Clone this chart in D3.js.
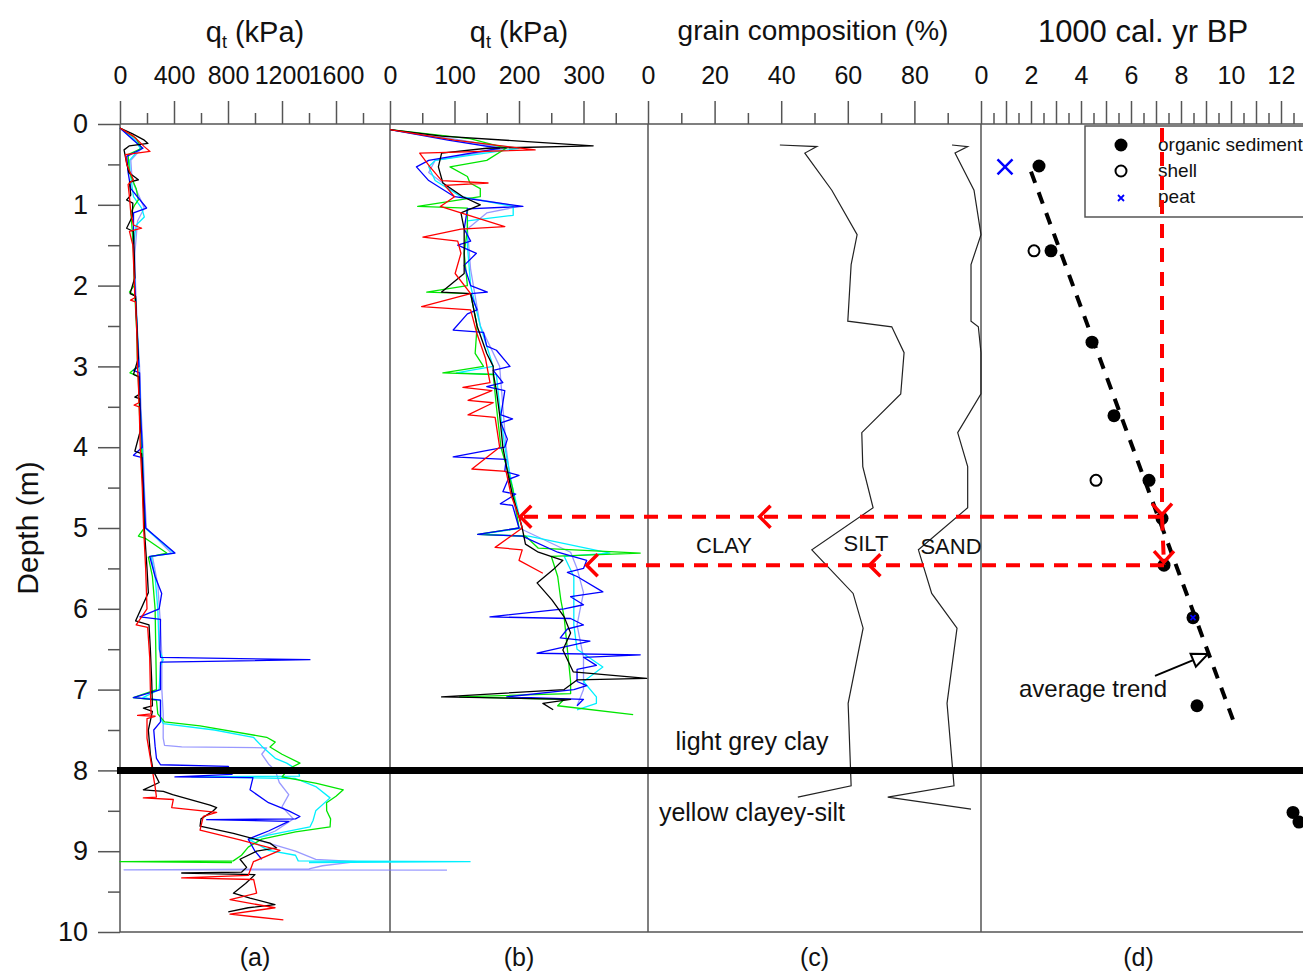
<!DOCTYPE html>
<html><head><meta charset="utf-8">
<script src="https://cdn.jsdelivr.net/npm/d3@7"></script>
<style>body{margin:0;background:#fff}</style>
</head><body>
<svg id="chart" width="1303" height="971"></svg>
<script>
// ---------------- DATA ----------------
// panel (a): cone resistance qt (kPa) vs depth (m); pairs [depth, qt]
const qtA_black = [[0.05,0],[0.12,90],[0.2,180],[0.24,207],[0.27,70],[0.32,30],[0.45,45],[0.6,65],[0.69,136],[0.72,70],[0.88,80],[0.94,49],[0.98,95],[1.15,90],[1.29,49],[1.33,100],[1.6,105],[1.9,110],[2.1,75],[2.13,115],[2.5,125],[2.9,135],[3.1,100],[3.13,140],[3.35,140],[3.38,110],[3.4,145],[3.8,150],[4.05,110],[4.08,160],[4.5,170],[5.0,180],[5.5,200],[5.8,210],[6.15,115],[6.2,215],[6.5,225],[6.9,235],[7.2,240],[7.23,173],[7.27,240],[7.5,210],[7.8,225],[8.0,245],[8.15,290],[8.24,173],[8.26,321],[8.3,390],[8.43,667],[8.46,716],[8.5,691],[8.6,600],[8.69,593],[8.78,840],[8.9,1111],[8.96,1160],[9.0,1012],[9.1,889],[9.2,938],[9.26,900],[9.27,457],[9.29,1000],[9.4,930],[9.52,840],[9.58,963],[9.66,1148],[9.7,950],[9.75,802]];
const qtA_red = [[0.05,0],[0.15,100],[0.28,180],[0.34,222],[0.38,40],[0.5,50],[0.69,99],[0.75,60],[0.9,70],[1.1,80],[1.25,100],[1.29,160],[1.33,70],[1.5,95],[1.9,105],[2.15,110],[2.18,78],[2.2,115],[2.6,125],[3.0,130],[3.3,138],[3.45,140],[3.48,105],[3.5,142],[4.0,150],[4.5,165],[5.0,175],[5.5,190],[6.0,200],[6.2,120],[6.23,205],[6.6,220],[7.0,225],[7.3,230],[7.32,130],[7.33,260],[7.36,200],[7.6,200],[8.0,240],[8.2,260],[8.33,270],[8.34,173],[8.36,395],[8.46,383],[8.52,716],[8.57,617],[8.74,593],[8.86,889],[8.99,1185],[9.13,988],[9.3,950],[9.33,457],[9.35,990],[9.52,1012],[9.6,815],[9.7,1148],[9.78,815],[9.85,1210]];
const qtA_green = [[0.05,0],[0.18,120],[0.3,160],[0.38,60],[0.6,70],[0.8,120],[0.94,136],[1.0,110],[1.1,80],[1.3,90],[1.6,100],[2.0,105],[2.08,70],[2.12,110],[2.6,125],[3.0,130],[3.08,74],[3.12,135],[3.6,145],[4.0,160],[4.5,170],[5.0,180],[5.1,136],[5.13,190],[5.31,346],[5.36,210],[5.6,240],[6.0,260],[6.5,265],[7.0,270],[7.1,99],[7.13,270],[7.3,280],[7.4,330],[7.45,593],[7.59,1086],[7.65,1150],[7.71,1111],[7.8,1200],[7.91,1333],[7.98,1250],[8.08,1200],[8.16,1457],[8.24,1654],[8.32,1600],[8.4,1530],[8.5,1531],[8.6,1560],[8.7,1556],[8.76,1300],[8.85,1050],[8.95,950],[9.05,900],[9.12,839],[9.13,0],[9.14,830]];
const qtA_cyan = [[0.05,0],[0.2,110],[0.3,150],[0.45,70],[0.6,75],[0.9,100],[1.04,160],[1.15,180],[1.25,120],[1.5,100],[2.0,110],[2.6,130],[3.0,140],[3.5,150],[4.0,165],[4.5,175],[5.0,185],[5.31,400],[5.35,230],[5.6,260],[6.0,280],[6.5,290],[6.63,320],[6.7,300],[7.0,290],[7.1,170],[7.13,300],[7.35,300],[7.42,320],[7.5,700],[7.59,988],[7.7,1050],[7.85,1150],[7.91,1235],[8.0,1320],[8.07,1330],[8.08,531],[8.1,1300],[8.2,1450],[8.34,1556],[8.5,1450],[8.62,1430],[8.7,1407],[8.8,1100],[8.86,963],[8.99,1100],[9.05,1300],[9.12,1320],[9.13,2593],[9.14,1400]];
const qtA_blue = [[0.05,0],[0.2,100],[0.3,170],[0.4,50],[0.6,60],[0.8,80],[1.04,197],[1.1,100],[1.5,100],[2.0,110],[2.5,125],[3.0,140],[3.05,100],[3.08,145],[3.5,150],[4.0,165],[4.1,100],[4.13,165],[4.5,175],[5.0,190],[5.31,407],[5.35,220],[5.6,260],[5.81,309],[6.0,290],[6.1,148],[6.13,300],[6.5,296],[6.6,300],[6.63,1407],[6.66,300],[7.0,300],[7.1,99],[7.13,300],[7.4,300],[7.5,250],[7.7,260],[7.85,270],[7.93,300],[7.95,802],[8.05,830],[8.08,407],[8.09,985],[8.24,963],[8.4,1100],[8.5,1250],[8.57,1333],[8.6,1300],[8.61,642],[8.63,1250],[8.75,1100],[8.85,950],[9.0,1000],[9.1,1050]];
const qtA_lblue = [[0.05,0],[0.2,120],[0.3,160],[0.45,80],[0.7,90],[1.04,180],[1.2,130],[1.6,110],[2.0,115],[2.6,130],[3.0,145],[3.5,155],[4.0,170],[4.5,180],[5.0,195],[5.31,380],[5.35,240],[5.7,280],[6.2,300],[6.6,310],[7.0,310],[7.3,320],[7.6,320],[7.69,330],[7.71,457],[7.72,1086],[7.8,1050],[7.92,1100],[8.0,1150],[8.15,1180],[8.3,1250],[8.45,1200],[8.6,1284],[8.75,1150],[8.85,1000],[9.0,1300],[9.1,1450],[9.13,1753],[9.18,1500],[9.22,1400],[9.23,30],[9.235,2422]];

// panel (b): qt (kPa), zoomed scale
const qtB_black = [[0.07,0],[0.15,80],[0.27,315],[0.3,150],[0.36,80],[0.53,75],[0.73,82],[0.9,113],[1.0,140],[1.1,110],[1.3,115],[1.6,115],[1.85,115],[2.08,80],[2.1,125],[2.5,135],[2.84,150],[3.0,160],[3.08,160],[3.3,165],[3.6,170],[4.0,175],[4.3,182],[4.6,190],[4.86,200],[5.0,205],[5.2,210],[5.3,230],[5.4,268],[5.5,255],[5.68,228],[5.89,251],[6.1,270],[6.3,280],[6.51,268],[6.78,284],[6.86,398],[6.88,290],[7.0,270],[7.09,80],[7.12,280],[7.17,237],[7.25,253]];
const qtB_red = [[0.07,0],[0.2,100],[0.32,225],[0.36,46],[0.53,62],[0.7,80],[0.73,152],[0.76,85],[0.9,100],[1.02,78],[1.1,110],[1.27,178],[1.3,110],[1.4,51],[1.45,105],[1.6,110],[1.85,101],[2.1,125],[2.26,49],[2.3,125],[2.6,135],[2.9,148],[3.2,155],[3.26,113],[3.3,158],[3.42,121],[3.45,160],[3.6,121],[3.63,163],[4.0,170],[4.27,127],[4.3,180],[4.6,188],[4.86,200],[5.0,205],[5.24,163],[5.27,205],[5.4,200],[5.56,237]];
const qtB_green = [[0.07,0],[0.18,124],[0.3,180],[0.45,150],[0.53,93],[0.65,120],[0.73,124],[0.8,140],[0.9,140],[1.02,43],[1.04,120],[1.3,120],[1.6,115],[2.0,120],[2.08,57],[2.1,125],[2.5,135],[2.84,132],[3.0,145],[3.08,82],[3.1,160],[3.5,165],[4.0,172],[4.5,190],[5.0,200],[5.08,136],[5.1,210],[5.25,230],[5.31,388],[5.35,250],[5.6,260],[5.9,265],[6.1,270],[6.5,275],[6.9,280],[7.05,280],[7.09,108],[7.12,270],[7.2,260],[7.31,377]];
const qtB_cyan = [[0.07,0],[0.2,100],[0.3,200],[0.45,70],[0.53,60],[0.7,70],[0.9,110],[1.02,191],[1.13,191],[1.2,120],[1.5,120],[2.0,125],[2.5,140],[3.0,160],[3.08,103],[3.1,165],[3.5,170],[4.0,178],[4.5,190],[5.0,205],[5.08,140],[5.1,215],[5.31,341],[5.35,270],[5.6,285],[5.9,285],[6.2,285],[6.5,290],[6.72,330],[6.9,300],[7.09,320],[7.17,320],[7.25,290]];
const qtB_blue = [[0.07,0],[0.2,90],[0.3,170],[0.45,60],[0.53,41],[0.7,60],[0.9,100],[1.02,206],[1.05,120],[1.3,115],[1.45,125],[1.5,105],[1.6,134],[1.75,115],[2.0,125],[2.08,151],[2.1,125],[2.3,135],[2.35,120],[2.55,98],[2.58,145],[2.75,150],[2.8,165],[3.0,186],[3.05,160],[3.2,175],[3.25,150],[3.3,178],[3.6,172],[3.65,190],[3.7,172],[3.9,182],[4.0,178],[4.12,98],[4.15,180],[4.3,178],[4.35,200],[4.4,183],[4.55,175],[4.58,195],[4.7,171],[4.72,190],[5.0,200],[5.08,136],[5.1,205],[5.3,260],[5.4,305],[5.5,300],[5.55,275],[5.6,290],[5.79,330],[5.85,280],[5.95,300],[6.0,270],[6.1,155],[6.12,280],[6.2,300],[6.25,275],[6.36,264],[6.4,310],[6.55,228],[6.57,388],[6.6,300],[6.7,320],[6.75,290],[6.9,290],[6.95,305],[7.0,285],[7.09,181],[7.12,300],[7.2,290]];
const qtB_lblue = [[0.07,0],[0.2,110],[0.3,180],[0.45,70],[0.6,60],[0.9,110],[1.02,200],[1.1,150],[1.3,120],[1.8,125],[2.5,140],[3.0,170],[3.5,175],[4.0,180],[4.5,188],[5.0,200],[5.3,280],[5.5,290],[5.8,300],[6.2,290],[6.6,300],[7.0,300],[7.2,290]];

// panel (c): grain composition boundaries (%), pairs [depth, cumulative %]
const clayLimit = [[0.26,39.6],[0.28,50.7],[0.36,47.1],[0.82,55.2],[1.37,62.8],[1.74,61],[2.44,60],[2.51,73.2],[2.83,76.9],[3.34,75.9],[3.82,64.2],[4.24,64.5],[4.75,67.6],[5.27,49.2],[5.81,61.6],[6.24,64.6],[7.17,60.1],[8.19,61],[8.33,45]];
const siltLimit = [[0.26,91.3],[0.28,96],[0.36,92.2],[0.82,97.9],[1.37,100],[1.74,97],[2.44,97],[2.51,99.2],[2.83,100],[3.34,100],[3.82,93],[4.24,96],[4.75,96],[5.27,81.2],[5.81,85.2],[6.24,92.8],[7.17,89.8],[8.19,91.9],[8.33,72],[8.48,97]];

// panel (d): radiocarbon ages (1000 cal. yr BP) vs depth
const organicAge   = [2.32, 2.8, 4.44, 5.32, 6.72, 7.24, 7.32, 8.48, 8.64, 12.48, 12.72];
const organicDepth = [0.52, 1.57, 2.70, 3.61, 4.41, 4.88, 5.46, 6.11, 7.20, 8.52, 8.64];
const shellAge     = [2.12, 4.6];
const shellDepth   = [1.57, 4.41];
const peatAge      = [0.96, 8.48];
const peatDepth    = [0.53, 6.11];
const peatSize     = [15, 5];
const trendAge     = [2.0, 10.16];
const trendDepth   = [0.59, 7.44];

// correlation arrows (depth, age of source, qt target in (b), grain-% mid arrow)
const linkDepth    = [4.86, 5.46];
const linkAge      = [7.24, 7.32];
const linkQt       = [202, 305];
const linkGrainMid = [33.5, 66.5];

const boundaryDepth = 8;
const titles = ["q", "q", "grain composition (%)", "1000 cal. yr BP"];
const panelLetters = ["(a)", "(b)", "(c)", "(d)"];
const legendLabels = ["organic sediment", "shell", "peat"];

// ---------------- CHART ----------------
const svg = d3.select('#chart');
const FONT = "'Liberation Sans', Arial, sans-serif";
const AX = '#555';
const yTop = 124, yBot = 932;
const y = d3.scaleLinear().domain([0, 10]).range([yTop, yBot]);
const xA = d3.scaleLinear().domain([0, 2000]).range([120, 390]);
const xB = d3.scaleLinear().domain([0, 400]).range([390, 648]);
const xC = d3.scaleLinear().domain([0, 100]).range([648, 981]);
const xD = d3.scaleLinear().domain([0, 13]).range([981, 1306]);

function styleAxis(g, fs) {
  g.select('.domain').remove();
  g.selectAll('line').attr('stroke', AX).attr('stroke-width', 1.5);
  g.selectAll('text').attr('font-family', FONT).attr('font-size', fs).attr('fill', '#111');
}
function topAxis(scale, majors, minors, labels) {
  svg.append('g').attr('transform', `translate(0,${yTop})`)
    .call(d3.axisTop(scale).tickValues(minors).tickSize(11).tickFormat(''))
    .call(g => styleAxis(g, 24));
  svg.append('g').attr('transform', `translate(0,${yTop})`)
    .call(d3.axisTop(scale).tickValues(majors).tickSize(23).tickPadding(17)
      .tickFormat(d => labels.includes(d) ? d : ''))
    .call(g => styleAxis(g, 25));
}
topAxis(xA, [0,400,800,1200,1600], [200,600,1000,1400,1800], [0,400,800,1200,1600]);
topAxis(xB, [0,100,200,300], [50,150,250,350], [0,100,200,300]);
topAxis(xC, [0,20,40,60,80], [10,30,50,70,90], [0,20,40,60,80]);
topAxis(xD, d3.range(0, 13, 1), d3.range(0.5, 13, 1), [0,2,4,6,8,10,12]);

// left depth axis
svg.append('g').attr('transform', 'translate(120,0)')
  .call(d3.axisLeft(y).tickValues(d3.range(0.5, 10, 1)).tickSize(12).tickFormat(''))
  .call(g => styleAxis(g, 27));
svg.append('g').attr('transform', 'translate(120,0)')
  .call(d3.axisLeft(y).tickValues(d3.range(0, 11, 1)).tickSize(22).tickPadding(10).tickFormat(d3.format('d')))
  .call(g => styleAxis(g, 27));

// frame lines
svg.append('line').attr('x1', 120).attr('x2', 1303).attr('y1', yTop).attr('y2', yTop).attr('stroke', AX).attr('stroke-width', 1.5);
svg.append('line').attr('x1', 120).attr('x2', 1303).attr('y1', yBot).attr('y2', yBot).attr('stroke', AX).attr('stroke-width', 1.5);
[120, 390, 648, 981].forEach(px => {
  svg.append('line').attr('x1', px).attr('x2', px).attr('y1', yTop).attr('y2', yBot).attr('stroke', AX).attr('stroke-width', 1.5);
});

// titles
function qtTitle(cx) {
  const t = svg.append('text').attr('x', cx).attr('y', 42).attr('text-anchor', 'middle')
    .attr('font-family', FONT).attr('font-size', 29).attr('fill', '#111');
  t.append('tspan').text('q');
  t.append('tspan').attr('font-size', 18).attr('dy', 6).text('t');
  t.append('tspan').attr('dy', -6).text(' (kPa)');
}
qtTitle(255); qtTitle(519);
svg.append('text').attr('x', 813).attr('y', 40).attr('text-anchor', 'middle')
  .attr('font-family', FONT).attr('font-size', 28).attr('fill', '#111').text(titles[2]);
svg.append('text').attr('x', 1143).attr('y', 42).attr('text-anchor', 'middle')
  .attr('font-family', FONT).attr('font-size', 31).attr('fill', '#111').text(titles[3]);

// depth label
svg.append('text').attr('transform', 'translate(38,528) rotate(-90)').attr('text-anchor', 'middle')
  .attr('font-family', FONT).attr('font-size', 30).attr('fill', '#111').text('Depth (m)');

// panel letters
[[xA, 1000], [xB, 200], [xC, 50], [xD, 6.3]].forEach(([sc, v], i) => {
  svg.append('text').attr('x', sc(v)).attr('y', 966).attr('text-anchor', 'middle')
    .attr('font-family', FONT).attr('font-size', 25).attr('fill', '#111').text(panelLetters[i]);
});

// qt profiles
const series = [
  ['#7777ff', 0.75, qtA_lblue, qtB_lblue],
  ['#00f0ff', 1, qtA_cyan, qtB_cyan],
  ['#00e600', 1, qtA_green, qtB_green],
  ['#0000ff', 1, qtA_blue, qtB_blue],
  ['#000000', 1, qtA_black, qtB_black],
  ['#ff0000', 1, qtA_red, qtB_red]
];
series.forEach(([col, op, a, b]) => {
  svg.append('path').datum(a).attr('fill', 'none').attr('stroke', col).attr('stroke-opacity', op)
    .attr('stroke-width', 1.3).attr('stroke-linejoin', 'round')
    .attr('d', d3.line().x(d => xA(d[1])).y(d => y(d[0])));
  svg.append('path').datum(b).attr('fill', 'none').attr('stroke', col).attr('stroke-opacity', op)
    .attr('stroke-width', 1.3).attr('stroke-linejoin', 'round')
    .attr('d', d3.line().x(d => xB(d[1])).y(d => y(d[0])));
});

// grain composition
[clayLimit, siltLimit].forEach(arr => {
  svg.append('path').datum(arr).attr('fill', 'none').attr('stroke', '#222').attr('stroke-width', 1.2)
    .attr('d', d3.line().x(d => xC(d[1])).y(d => y(d[0])));
});

// boundary line at 8 m
svg.append('line').attr('x1', 117).attr('x2', 1303).attr('y1', y(boundaryDepth)).attr('y2', y(boundaryDepth))
  .attr('stroke', '#000').attr('stroke-width', 7);

// annotations
function txt(x, yy, s, fs) {
  svg.append('text').attr('x', x).attr('y', yy).attr('text-anchor', 'middle')
    .attr('font-family', FONT).attr('font-size', fs).attr('fill', '#111').text(s);
}
txt(724, 553, 'CLAY', 22);
txt(866, 551, 'SILT', 22);
txt(951, 554, 'SAND', 22);
txt(752, 750, 'light grey clay', 25);
txt(752, 821, 'yellow clayey-silt', 25);
txt(1093, 697, 'average trend', 24);

// legend
const lg = svg.append('g');
lg.append('rect').attr('x', 1085).attr('y', 126).attr('width', 240).attr('height', 91)
  .attr('fill', '#fff').attr('stroke', AX).attr('stroke-width', 1.5);
lg.append('circle').attr('cx', 1121).attr('cy', 145).attr('r', 6.5).attr('fill', '#000');
lg.append('circle').attr('cx', 1121).attr('cy', 171).attr('r', 5.5).attr('fill', '#fff').attr('stroke', '#000').attr('stroke-width', 2);
lg.append('path').attr('d', 'M1118,195L1124,201M1124,195L1118,201').attr('stroke', '#0000ff').attr('stroke-width', 1.8);
legendLabels.forEach((s, i) => {
  lg.append('text').attr('x', 1158).attr('y', 151 + i * 26).attr('font-family', FONT)
    .attr('font-size', 19).attr('fill', '#111').text(s);
});

// trend line
svg.append('path').datum(d3.zip(trendAge, trendDepth)).attr('fill', 'none').attr('stroke', '#000')
  .attr('stroke-width', 4).attr('stroke-dasharray', '12,10')
  .attr('d', d3.line().x(d => xD(d[0])).y(d => y(d[1])));

// points
organicAge.forEach((a, i) => {
  svg.append('circle').attr('cx', xD(a)).attr('cy', y(organicDepth[i])).attr('r', 6.5).attr('fill', '#000');
});
shellAge.forEach((a, i) => {
  svg.append('circle').attr('cx', xD(a)).attr('cy', y(shellDepth[i])).attr('r', 5.5)
    .attr('fill', '#fff').attr('stroke', '#000').attr('stroke-width', 2);
});
peatAge.forEach((a, i) => {
  const cx = xD(a), cy = y(peatDepth[i]), s = peatSize[i] / 2;
  svg.append('path').attr('d', `M${cx - s},${cy - s}L${cx + s},${cy + s}M${cx + s},${cy - s}L${cx - s},${cy + s}`)
    .attr('stroke', '#0000ff').attr('stroke-width', i === 0 ? 2.5 : 1.8);
});

// average trend pointer
const ptr = [[6.96, 6.83], [9.08, 6.56]];
const p0 = [xD(ptr[0][0]), y(ptr[0][1])], p1 = [xD(ptr[1][0]), y(ptr[1][1])];
const ang = Math.atan2(p1[1] - p0[1], p1[0] - p0[0]);
const hl = 16, hw = 7;
const bx = p1[0] - hl * Math.cos(ang), by = p1[1] - hl * Math.sin(ang);
svg.append('line').attr('x1', p0[0]).attr('y1', p0[1]).attr('x2', bx).attr('y2', by).attr('stroke', '#000').attr('stroke-width', 2);
svg.append('path').attr('d', `M${p1[0]},${p1[1]}L${bx + hw * Math.sin(ang)},${by - hw * Math.cos(ang)}L${bx - hw * Math.sin(ang)},${by + hw * Math.cos(ang)}Z`)
  .attr('fill', '#fff').attr('stroke', '#000').attr('stroke-width', 2);

// red correlation arrows
const RED = '#ff0000';
function dashed(x1, y1, x2, y2) {
  svg.append('line').attr('x1', x1).attr('y1', y1).attr('x2', x2).attr('y2', y2)
    .attr('stroke', RED).attr('stroke-width', 4).attr('stroke-dasharray', '14,10');
}
function headLeft(x, yy) {
  svg.append('path').attr('d', `M${x + 11},${yy - 11}L${x},${yy}L${x + 11},${yy + 11}`)
    .attr('fill', 'none').attr('stroke', RED).attr('stroke-width', 3.5);
}
function headDown(x, yy) {
  svg.append('path').attr('d', `M${x - 10},${yy - 11}L${x},${yy}L${x + 10},${yy - 11}`)
    .attr('fill', 'none').attr('stroke', RED).attr('stroke-width', 3.5);
}
dashed(xD(linkAge[0]), y(0.05), xD(linkAge[0]), y(linkDepth[0]));
dashed(xD(linkAge[0]), y(linkDepth[0]), xD(linkAge[1]), y(linkDepth[1]));
headDown(xD(linkAge[0]), y(linkDepth[0]) - 2);
headDown(xD(linkAge[1]), y(linkDepth[1]) - 3);
linkDepth.forEach((d, i) => {
  dashed(xD(linkAge[i]), y(d), xB(linkQt[i]), y(d));
  headLeft(xB(linkQt[i]), y(d));
  headLeft(xC(linkGrainMid[i]), y(d));
});
</script>
</body></html>
